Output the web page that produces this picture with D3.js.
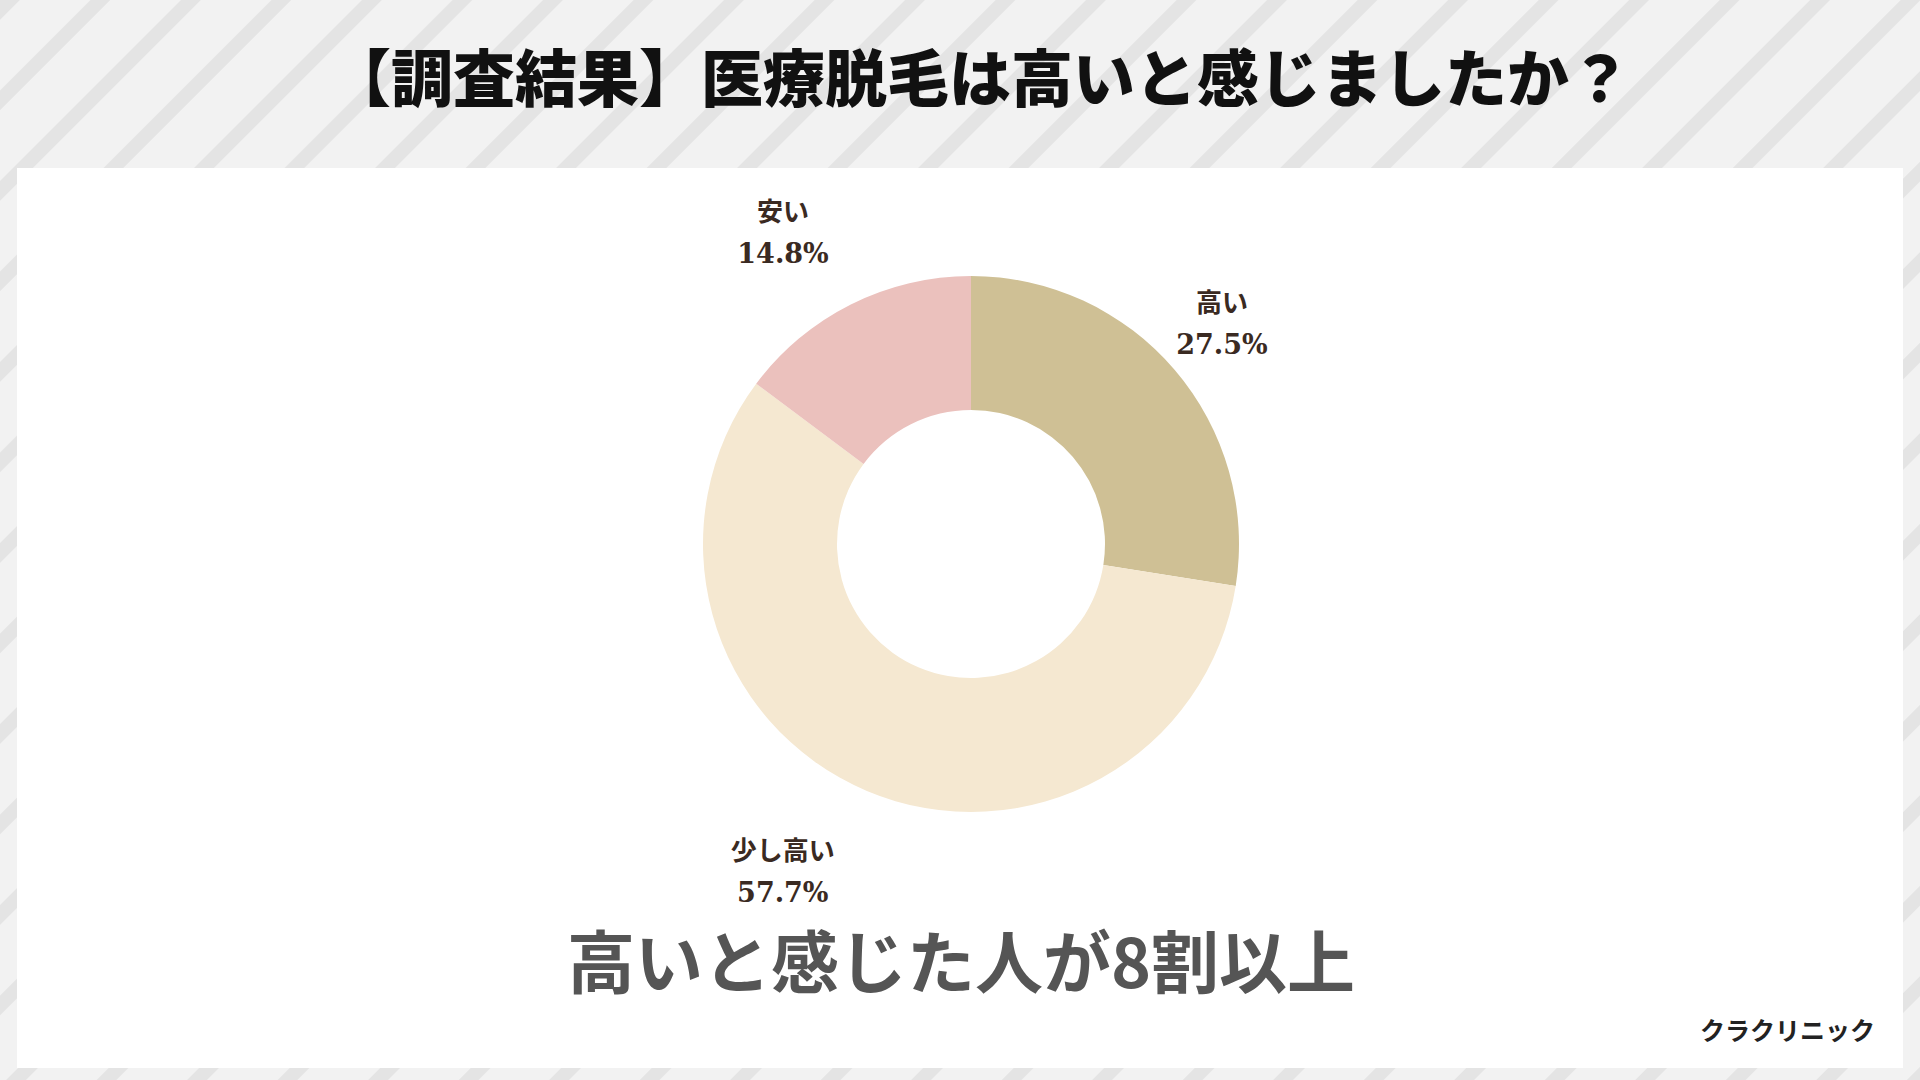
<!DOCTYPE html>
<html><head><meta charset="utf-8">
<script src="https://cdn.jsdelivr.net/npm/d3@7"></script>
<style>body{margin:0;background:#f2f2f2;}svg{display:block;}</style>
</head><body>
<svg id="chart" width="1920" height="1080"></svg>
<script>
var labels = ["高い", "少し高い", "安い"];
var values = [27.5, 57.7, 14.8];
var colors = ["#cfc095", "#f5e8d1", "#ebc1bd"];

var svg = d3.select("#chart");
var defs = svg.append("defs");
var pat = defs.append("pattern").attr("id", "stripes").attr("patternUnits", "userSpaceOnUse")
    .attr("width", 64).attr("height", 64).attr("patternTransform", "rotate(45)");
pat.append("rect").attr("width", 64).attr("height", 64).attr("fill", "#f2f2f2");
pat.append("rect").attr("x", 0).attr("width", 14).attr("height", 64).attr("fill", "#e4e4e4");

svg.append("rect").attr("width", 1920).attr("height", 1080).attr("fill", "url(#stripes)");
svg.append("rect").attr("x", 17).attr("y", 168).attr("width", 1886).attr("height", 900).attr("fill", "#fff");

svg.append("text").attr("x", 980).attr("y", 102).attr("text-anchor", "middle")
    .attr("font-family", "Noto Sans CJK JP").attr("font-weight", 900).attr("font-size", 62)
    .attr("fill", "#111").text("【調査結果】医療脱毛は高いと感じましたか？");

var cx = 971, cy = 544;
var pie = d3.pie().sort(null).value(function(d){ return d; });
var arc = d3.arc().innerRadius(134).outerRadius(268);
var g = svg.append("g").attr("transform", "translate(" + cx + "," + cy + ")");
g.selectAll("path").data(pie(values)).enter().append("path")
    .attr("d", arc).attr("fill", function(d, i){ return colors[i]; });

// label positions around the ring
var labelArc = d3.arc().innerRadius(330).outerRadius(330);
var offs = [[0, -10], [-60, 20], [-40, -20]];
var lg = g.selectAll(".lbl").data(pie(values)).enter().append("g")
    .attr("transform", function(d, i){
        var c = labelArc.centroid(d);
        return "translate(" + (c[0] + offs[i][0]) + "," + (c[1] + offs[i][1]) + ")";
    });
lg.append("text").attr("text-anchor", "middle").attr("y", -8)
    .attr("font-family", "Noto Sans CJK JP").attr("font-weight", 700).attr("font-size", 26)
    .attr("fill", "#3a2a22").text(function(d, i){ return labels[i]; });
lg.append("text").attr("text-anchor", "middle").attr("y", 34)
    .attr("font-family", "DejaVu Serif").attr("font-weight", 700).attr("font-size", 27)
    .attr("fill", "#3a2a22").text(function(d){ return d.data.toFixed(1) + "%"; });

svg.append("text").attr("x", 961).attr("y", 988).attr("text-anchor", "middle")
    .attr("font-family", "Noto Sans CJK JP").attr("font-weight", 700).attr("font-size", 68)
    .attr("fill", "#555").text("高いと感じた人が8割以上");

svg.append("text").attr("x", 1875).attr("y", 1040).attr("text-anchor", "end")
    .attr("font-family", "Noto Sans CJK JP").attr("font-weight", 700).attr("font-size", 25)
    .attr("fill", "#222").text("クラクリニック");
</script>
</body></html>
